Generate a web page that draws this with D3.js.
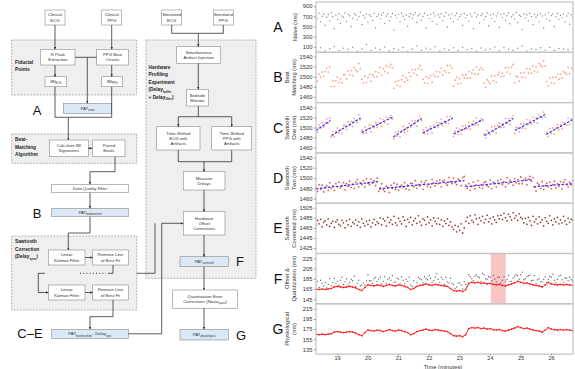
<!DOCTYPE html>
<html><head><meta charset="utf-8">
<script src="https://cdn.jsdelivr.net/npm/d3@7"></script>
<style>body{margin:0;background:#fff}svg{display:block}text{font-family:"Liberation Sans",Arial,sans-serif}</style>
</head><body><svg id="c" width="575" height="369"></svg>
<script>
// ---------------- DATA ----------------
const T0 = 18.31, T1 = 26.71;
const xTicks = [19,20,21,22,23,24,25,26];
const ticksA = [100,300,500,700,900];
const ticksB = [1460,1480,1500,1520,1540];
const ticksC = [1460,1480,1500,1520,1540];
const ticksD = [1460,1480,1500,1520,1540];
const ticksE = [1425,1445,1465,1485,1505];
const ticksF = [145,165,185,205,225];
const ticksG = [135,155,175,195,215];

const naiveHigh = [720,655,760,590,700,745,520,680,735,610,770,690,455,725,640,750,560,705,680,765,
600,740,710,495,660,755,725,630,690,780,540,715,670,745,585,730,700,620,760,475,
695,735,650,720,770,560,705,745,610,685,755,430,715,670,740,595,760,700,640,725,
505,690,750,660,730,775,580,710,745,625,695,760,470,720,655,740,600,765,705,545,
730,680,750,615,700,770,490,725,660,745,590,710,760,635,690,735,525,755,670,720,
605,745,700,460,765,685,730,570,715,750,640,695,770,515,725,660,740,600,705,760,
485,735,675,750,620,710,765,555,690,730,645,775,580,720,700,440,745,665,730,610,
760,695,535,740,680,725,590,755,705,470,730,650,770,620,715,745,500,690,760,635,
720,675,745,590,705,760,545,730,690];
const naiveLow = [40,85,20,65,110,30,75,55,95,15,60,145,35,80,50,100,25,70,45,90,10,60,120,35,75,55,105,20,65,40,85,30,95,50,70,15,80,45,60,100,25,90,55,35,75,115,20,65,50,85,40,95,30,70,60,45,80];

const beatMatched = [1498,1491,1505,1499,1509,1501,1510,1517,1509,1519,
1481,1492,1481,1492,1499,1489,1496,1488,1504,1504,1496,1511,1504,1512,1502,1518,1513,1510,1526,1516,
1495,1488,1501,1489,1498,1505,1491,1504,1500,1510,1500,1508,1518,1503,1516,1510,1521,1507,1520,1524,1517,
1477,1490,1483,1492,1481,1494,1502,1490,1498,1493,1508,1501,1514,1507,1514,1503,1516,1522,1514,
1495,1488,1500,1487,1497,1502,1489,1504,1500,1510,1500,1509,1517,1504,1512,1509,1522,1508,1522,1517,
1482,1493,1499,1486,1496,1487,1503,1497,1504,1497,1510,1497,1507,1513,1505,1519,1505,1514,1518,1514,
1487,1479,1494,1490,1486,1501,1492,1502,1489,1504,1509,1500,1507,1501,1518,1509,1518,1506,1519,1524,
1488,1501,1499,1491,1507,1499,1508,1498,1516,1507,1515,1507,1521,1511,1519,1509,1526,1522,1520,1531,1521,
1490,1482,1498,1488,1499,1487,1499,1505,1495,1505,1497,1510,1508,1505,1519,1506,1517,1514];
const fit1Start = [18.31,18.82,19.80,20.84,21.80,22.81,23.82,24.82,25.84];
const fit1End   = [18.78,19.77,20.82,21.77,22.79,23.78,24.77,25.81,26.71];
const fit1From  = [1494,1484,1490,1481,1489,1487,1484,1494,1486];
const fit1To    = [1514,1519,1521,1518,1519,1516,1518,1526,1516];

const sawtoothTwo = [1482,1474,1487,1478,1486,1473,1482,1485,1476,1491,1480,1485,1476,1489,1483,1492,1481,1485,1491,1477,
1489,1484,1494,1482,1488,1480,1492,1497,1483,1491,1487,1495,1483,1499,1490,1487,1498,1490,1495,1485,1500,
1474,1481,1489,1477,1474,1484,1482,1472,1486,1480,1490,1478,1488,1476,1483,1486,1483,1491,1479,1486,
1477,1490,1489,1483,1495,1480,1487,1485,1493,1478,1491,1495,1484,1488,1482,1497,1491,1485,1494,1489,
1496,1483,1494,1496,1489,1486,1501,1493,1489,1500,1491,1487,1498,1496,1485,1501,1503,
1486,1480,1489,1476,1484,1492,1479,1487,1495,1482,1487,1480,1491,1493,1485,1483,1496,1479,1492,1490,
1483,1495,1489,1497,1487,1493,1483,1501,1489,1496,1492,1486,1499,1491,1497,1489,1502,1489,1496,1500,
1487,1498,1503,1494,1501,
1482,1475,1490,1487,1480,1493,1478,1485,1490,1483,1492,1479,1487,1494,1481,1489,1484,1493,1479,1492,1497,1487,1483,1492,1487,1494];
const fit2Start = [18.31,20.37,23.20,25.43];
const fit2End   = [20.34,23.17,25.40,26.71];
const fit2From  = [1479,1479,1483,1483];
const fit2To    = [1493,1495,1497,1489];

const corrected = [1470,1480,1473,1482,1467,1476,1479,1471,1483,1468,1474,1478,1466,1477,1481,1472,1469,1480,1475,1465,
1479,1471,1482,1468,1476,1473,1481,1470,1477,1466,1483,1474,1469,1478,1472,1480,1467,1475,1482,1471,1477,
1474,1485,1471,1483,1479,1469,1486,1476,1481,1472,1488,1475,1470,1484,1478,1473,1487,1480,1468,1482,
1476,1486,1471,1479,1484,1474,1489,1477,1470,1483,1480,1472,1487,1475,1481,1469,1485,1478,1473,1484,
1472,1481,1468,1479,1474,1483,1470,1477,1467,
1462,1470,1457,1468,1460,1473,1455,1465,
1478,1486,1474,1489,1480,1476,1491,1483,1472,1485,1479,1488,1475,1482,1490,1477,1484,1473,1487,1481,1476,1489,1483,
1490,1482,1494,1485,1479,1492,1487,1481,1495,1484,1489,1480,1493,1486,1483,
1475,1484,1472,1486,1479,1470,1488,1477,1482,1473,1487,1476,1481,1469,1485,1478,1474,1489,1480,1471,
1483,1477,1486,1473,1481,1475,1488,1479,1472,1484,1476,1482,1480];

const offsetQuant = [173,180,168,182,176,171,178,167,174,185,171,178,186,176,180,172,182,188,174,179,
185,173,178,184,181,190,170,176,182,171,173,177,173,181,193,181,181,176,185,188,
180,184,188,175,180,189,176,184,187,182,191,178,179,186,184,175,189,182,175,184,
180,188,173,170,181,169,177,188,185,183,177,189,185,183,191,186,178,181,188,195,
184,178,188,184,174,188,179,177,186,176,174,166,169,176,177,173,165,179,174,170,
193,189,185,181,190,193,189,187,180,196,193,185,184,189,188,181,192,184,179,188,
188,177,182,189,179,183,192,180,180,186,190,193,191,184,193,198,183,185,189,191,
192,181,182,191,176,183,185,179,179,184,189,178,184,190,188,194,182,177,184,190,
192,183,178,187,186,181,188,183,181];

const physiological = [165,164,165,164,165,166,169,170,169,168,169,170,169,167,164,162,168,173,172,171,
173,172,170,172,174,172,171,173,172,170,168,164,166,170,172,173,175,173,172,174,
173,172,171,170,166,162,161,162,160,164,176,178,177,178,176,177,175,176,174,173,
174,172,171,173,175,177,180,178,176,177,175,173,172,171,169,173,178,175,174,173,
174,173,174,173,172];
const highlightStart = 24.03, highlightEnd = 24.52;

// ---------------- SETUP ----------------
const svg = d3.select('#c');
const times = n => d3.range(n).map(i => T0 + i*(T1-T0)/(n-1));
const x = d3.scaleLinear().domain([18.31, 26.72]).range([316, 573]);
const FONT = '"Liberation Sans",Arial,sans-serif';

function rich(sel, str, fs){
  const parts = str.split(/(_\{[^}]*\})/).filter(s=>s.length);
  let sub=false;
  parts.forEach(p=>{
    if(p.startsWith('_{')){
      sel.append('tspan').attr('font-size', fs*0.62).attr('dy', fs*0.28).text(p.slice(2,-1));
      sub=true;
    } else {
      sel.append('tspan').attr('dy', sub? -fs*0.28:0).text(p);
      sub=false;
    }
  });
}

// ---------------- CHART PANELS ----------------
const PT = 2, PH = 50.3;
const panels = [
 {L:'A', dom:[-5,980], ticks:ticksA, title:['Naive (ms)']},
 {L:'B', dom:[1449,1548], ticks:ticksB, title:['Beat','Matching (ms)']},
 {L:'C', dom:[1449,1550], ticks:ticksC, title:['Sawtooth','One (ms)']},
 {L:'D', dom:[1451,1549], ticks:ticksD, title:['Sawtooth','Two (ms)']},
 {L:'E', dom:[1414,1514], ticks:ticksE, title:['Sawtooth','Corrected (ms)']},
 {L:'F', dom:[136,234.5], ticks:ticksF, title:['Offset &','Quantization (ms)']},
 {L:'G', dom:[125.5,225], ticks:ticksG, title:['Physiological','(ms)']}
];
const defs = svg.append('defs');
panels.forEach((p,k)=>{
  const top = PT + k*PH, bot = top + PH;
  p.y = d3.scaleLinear().domain(p.dom).range([bot, top]);
  p.top = top; p.bot = bot;
  defs.append('clipPath').attr('id','cp'+k).append('rect')
    .attr('x',316).attr('y',top).attr('width',257).attr('height',PH);
  p.g = svg.append('g');
  p.plot = p.g.append('g').attr('clip-path','url(#cp'+k+')');
});

function dots(p, vals, n, color, r){
  const ts = times(n);
  p.plot.selectAll(null).data(vals).join('circle')
    .attr('cx',(d,i)=>x(ts[i])).attr('cy',d=>p.y(d)).attr('r',r).attr('fill',color);
}
function fits(p, s, e, a, b){
  p.plot.selectAll(null).data(s).join('line')
    .attr('x1',d=>x(d)).attr('x2',(d,i)=>x(e[i]))
    .attr('y1',(d,i)=>p.y(a[i])).attr('y2',(d,i)=>p.y(b[i]))
    .attr('stroke','#2a2aff').attr('stroke-width',1.2).attr('stroke-dasharray','2.5,1.5');
}
const [pA,pB,pC,pD,pE,pF,pG] = panels;
dots(pA, naiveHigh, naiveHigh.length, '#8a8a8a', 0.7);
dots(pA, naiveLow, naiveLow.length, '#8a8a8a', 0.7);
dots(pB, beatMatched, beatMatched.length, '#f7a48c', 0.9);
dots(pC, beatMatched, beatMatched.length, '#f7a48c', 0.9);
fits(pC, fit1Start, fit1End, fit1From, fit1To);
dots(pD, sawtoothTwo, sawtoothTwo.length, '#e8574c', 0.9);
fits(pD, fit2Start, fit2End, fit2From, fit2To);
dots(pE, corrected, corrected.length, '#8c3434', 0.85);
// F
pF.plot.append('rect').attr('x',x(highlightStart)).attr('width',x(highlightEnd)-x(highlightStart))
  .attr('y',pF.top).attr('height',PH).attr('fill','#f9c4c4');
dots(pF, offsetQuant, offsetQuant.length, '#6a6a6a', 0.7);
const tP = times(physiological.length);
[pF,pG].forEach(p=>{
  p.plot.append('path').datum(physiological)
    .attr('d', d3.line().x((d,i)=>x(tP[i])).y(d=>p.y(d)))
    .attr('fill','none').attr('stroke','#ff2020').attr('stroke-width',1);
  p.plot.selectAll(null).data(physiological).join('circle')
    .attr('cx',(d,i)=>x(tP[i])).attr('cy',d=>p.y(d)).attr('r',0.85).attr('fill','#ff2020');
});

panels.forEach((p,k)=>{
  p.g.append('rect').attr('x',316).attr('y',p.top).attr('width',257).attr('height',PH)
    .attr('fill','none').attr('stroke','#c4c4c4').attr('stroke-width',1.2);
  const ax = p.g.append('g').attr('transform','translate(316,0)')
    .call(d3.axisLeft(p.y).tickValues(p.ticks).tickSize(2).tickPadding(1.5).tickFormat(d3.format('d')));
  ax.select('.domain').remove();
  ax.selectAll('text').attr('font-size',5.8).attr('fill','#333').attr('font-family',FONT);
  ax.selectAll('line').attr('stroke','#555').attr('stroke-width',0.5);
  const mid = (p.top+p.bot)/2;
  const tt = p.g.append('text').attr('transform',`translate(${p.title.length>1?289:297},${mid}) rotate(-90)`)
    .attr('text-anchor','middle').attr('font-size',5.8).attr('fill','#333');
  p.title.forEach((s,j)=>tt.append('tspan').attr('x',0).attr('dy',j?6.5:0).text(s));
  p.g.append('text').attr('x',278).attr('y',mid+5).attr('text-anchor','middle')
    .attr('font-size',14).attr('fill','#111').text(p.L);
});
const xa = svg.append('g').attr('transform',`translate(0,${pG.bot})`)
  .call(d3.axisBottom(x).tickValues(xTicks).tickSize(1.5).tickPadding(1).tickFormat(d3.format('d')));
xa.select('.domain').remove();
xa.selectAll('text').attr('font-size',5.5).attr('fill','#333').attr('font-family',FONT);
xa.selectAll('line').attr('stroke','#555').attr('stroke-width',0.5);
svg.append('text').attr('x',443).attr('y',368.5).attr('text-anchor','middle').attr('font-size',5.8).attr('fill','#333').text('Time (minutes)');

// ---------------- FLOWCHART ----------------
const fc = svg.append('g');
const regions = [
 {x:11.7,y:40,w:125,h:55, lab:['Fiducial','Points'], lx:15, ly:63.5},
 {x:11.7,y:134,w:125,h:29.3, lab:['Beat-','Matching','Algorithm'], lx:15, ly:141},
 {x:11.7,y:236,w:125,h:74, lab:['Sawtooth','Correction','(Delay_{sync})'], lx:15, ly:243},
 {x:146,y:40,w:110,h:238.3, lab:['Hardware','Profiling','Experiment','(Delay_{buffer}','+ Delay_{filter})'], lx:148.5, ly:68.5}
];
fc.selectAll(null).data(regions).join('rect')
  .attr('x',d=>d.x).attr('y',d=>d.y).attr('width',d=>d.w).attr('height',d=>d.h)
  .attr('fill','#efefef').attr('stroke','#9a9a9a').attr('stroke-width',0.7).attr('stroke-dasharray','2,1.2');
regions.forEach(r=>{
  r.lab.forEach((s,j)=>{
    const t = fc.append('text').attr('x',r.lx).attr('y',r.ly+j*7.6).attr('font-size',4.8)
      .attr('font-weight','bold').attr('fill','#222');
    rich(t,s,4.8);
  });
});

const boxes = [
 {x:45,y:10,w:20,h:15,t:['Clinical','ECG']},
 {x:101.7,y:10,w:20,h:15,t:['Clinical','PPG']},
 {x:40.7,y:49.3,w:34.3,h:15.7,t:['R Peak','Extraction']},
 {x:96.7,y:49.3,w:31.6,h:15.7,t:['PPG Beat','Onsets']},
 {x:45,y:76.7,w:21.7,h:10,t:['IBI_{ECG}']},
 {x:101.7,y:76.7,w:21,h:10,t:['IBI_{PPG}']},
 {x:63.3,y:103.3,w:48.4,h:10,t:['PAT_{naive}'],blue:1},
 {x:49.3,y:140,w:39,h:16.7,t:['Calculate IBI','Signatures']},
 {x:92.7,y:140,w:32.3,h:16.7,t:['Paired','Beats']},
 {x:51.7,y:184.3,w:76.6,h:8.4,t:['Data Quality Filter']},
 {x:51.7,y:208.3,w:76.6,h:8.4,t:['PAT_{beatmatched}'],blue:1},
 {x:48.3,y:250,w:36.7,h:15,t:['Linear','Kalman Filter']},
 {x:92.7,y:250,w:35.6,h:15,t:['Remove Line','of Best Fit']},
 {x:48.3,y:285,w:36.7,h:15,t:['Linear','Kalman Filter']},
 {x:92.7,y:285,w:35.6,h:15,t:['Remove Line','of Best Fit']},
 {x:51.7,y:329.3,w:76.6,h:9,t:['PAT_{beatmatched} - Delay_{sync}'],blue:1},
 {x:161.7,y:10,w:20,h:15,t:['Simulated','ECG']},
 {x:213.3,y:10,w:20,h:15,t:['Simulated','PPG']},
 {x:176.7,y:46.7,w:44,h:16.6,t:['Simultaneous','Artifact Injection']},
 {x:186.7,y:89.3,w:21.6,h:16.7,t:['Bedside','Monitor']},
 {x:156.7,y:126.7,w:43.3,h:23.3,t:['Time-Shifted','ECG with','Artifacts']},
 {x:211.7,y:126.7,w:40,h:23.3,t:['Time-Shifted','PPG with','Artifacts']},
 {x:183.3,y:171.7,w:41.7,h:18.3,t:['Measure','Delays']},
 {x:183.3,y:211.7,w:41.7,h:23.3,t:['Hardware','Offset','Corrections']},
 {x:180,y:256.7,w:48.3,h:10,t:['PAT_{corrected}'],blue:1},
 {x:172.7,y:290,w:64.6,h:18.3,t:['Quantization Error','Corrections (Noise_{quant})']},
 {x:180,y:329.3,w:48.3,h:10.7,t:['PAT_{physiological}'],blue:1}
];
fc.selectAll(null).data(boxes).join('rect')
  .attr('x',d=>d.x).attr('y',d=>d.y).attr('width',d=>d.w).attr('height',d=>d.h)
  .attr('fill',d=>d.blue?'#dbe8f6':'#fff').attr('stroke','#8a8a8a').attr('stroke-width',0.6);
boxes.forEach(b=>{
  const fs=4.3, lh=5.2, n=b.t.length;
  b.t.forEach((s,j)=>{
    const t = fc.append('text').attr('x',b.x+b.w/2).attr('y',b.y+b.h/2+(j-(n-1)/2)*lh+1.5)
      .attr('text-anchor','middle').attr('font-size',fs).attr('fill','#333');
    rich(t,s,fs);
  });
});

// connectors
defs.append('marker').attr('id','ah').attr('viewBox','0 0 6 6').attr('refX',6).attr('refY',3)
  .attr('markerWidth',3).attr('markerHeight',3).attr('orient','auto')
  .append('path').attr('d','M0,0L6,3L0,6z').attr('fill','#333');
const paths = [
 {p:[[55,25],[55,49.3]],a:1},
 {p:[[111.7,25],[111.7,49.3]],a:1},
 {p:[[75,57.3],[96.7,57.3]]},
 {p:[[87.3,57.3],[87.3,103.3]],a:1},
 {p:[[55,65],[55,76.7]],a:1},
 {p:[[111.7,65],[111.7,76.7]],a:1},
 {p:[[55,86.7],[55,117.3],[111.7,117.3],[111.7,86.7]]},
 {p:[[68.3,117.3],[68.3,140]],a:1},
 {p:[[92.7,148.3],[88.3,148.3]],a:1},
 {p:[[115,156.7],[115,171.7],[90,171.7],[90,184.3]],a:1},
 {p:[[90,192.7],[90,208.3]],a:1},
 {p:[[90,216.7],[90,233],[68.3,233],[68.3,250]],a:1},
 {p:[[85,257.5],[92.7,257.5]],a:1},
 {p:[[113,265],[113,273.3],[108,273.3]]},
 {p:[[45,273.3],[38.3,273.3],[38.3,292.5],[48.3,292.5]],a:1},
 {p:[[85,292.5],[92.7,292.5]],a:1},
 {p:[[113,300],[113,316.7],[90,316.7],[90,329.3]],a:1},
 {p:[[128.3,333.8],[161.7,333.8],[161.7,223.3],[183.3,223.3]],a:1},
 {p:[[136.7,273.3],[155,273.3],[155,223.3]]},
 {p:[[171.7,25],[171.7,33.3],[223.3,33.3],[223.3,25]]},
 {p:[[198.3,33.3],[198.3,46.7]],a:1},
 {p:[[198.3,63.3],[198.3,89.3]],a:1},
 {p:[[198.3,106],[198.3,116.7]]},
 {p:[[178.3,116.7],[231.7,116.7],[231.7,126.7]],a:1},
 {p:[[178.3,116.7],[178.3,126.7]],a:1},
 {p:[[178.3,150],[178.3,161.7],[231.7,161.7],[231.7,150]]},
 {p:[[204,161.7],[204,171.7]],a:1},
 {p:[[204,190],[204,211.7]],a:1},
 {p:[[204,235],[204,256.7]],a:1},
 {p:[[204,266.7],[204,290]],a:1},
 {p:[[204,308.3],[204,329.3]],a:1}
];
fc.selectAll(null).data(paths).join('path')
  .attr('d',d=>d3.line()(d.p)).attr('fill','none').attr('stroke','#333').attr('stroke-width',0.8)
  .attr('marker-end',d=>d.a?'url(#ah)':null);
fc.append('line').attr('x1',80).attr('x2',106).attr('y1',273.3).attr('y2',273.3)
  .attr('stroke','#333').attr('stroke-width',1).attr('stroke-dasharray','1,2.2');

const letters = [{t:'A',x:37,y:115},{t:'B',x:37,y:218},{t:'C–E',x:30,y:338},{t:'F',x:240,y:266},{t:'G',x:241,y:340}];
fc.selectAll(null).data(letters).join('text').attr('x',d=>d.x).attr('y',d=>d.y).attr('text-anchor','middle')
  .attr('font-size',13).attr('fill','#111').text(d=>d.t);
</script></body></html>
